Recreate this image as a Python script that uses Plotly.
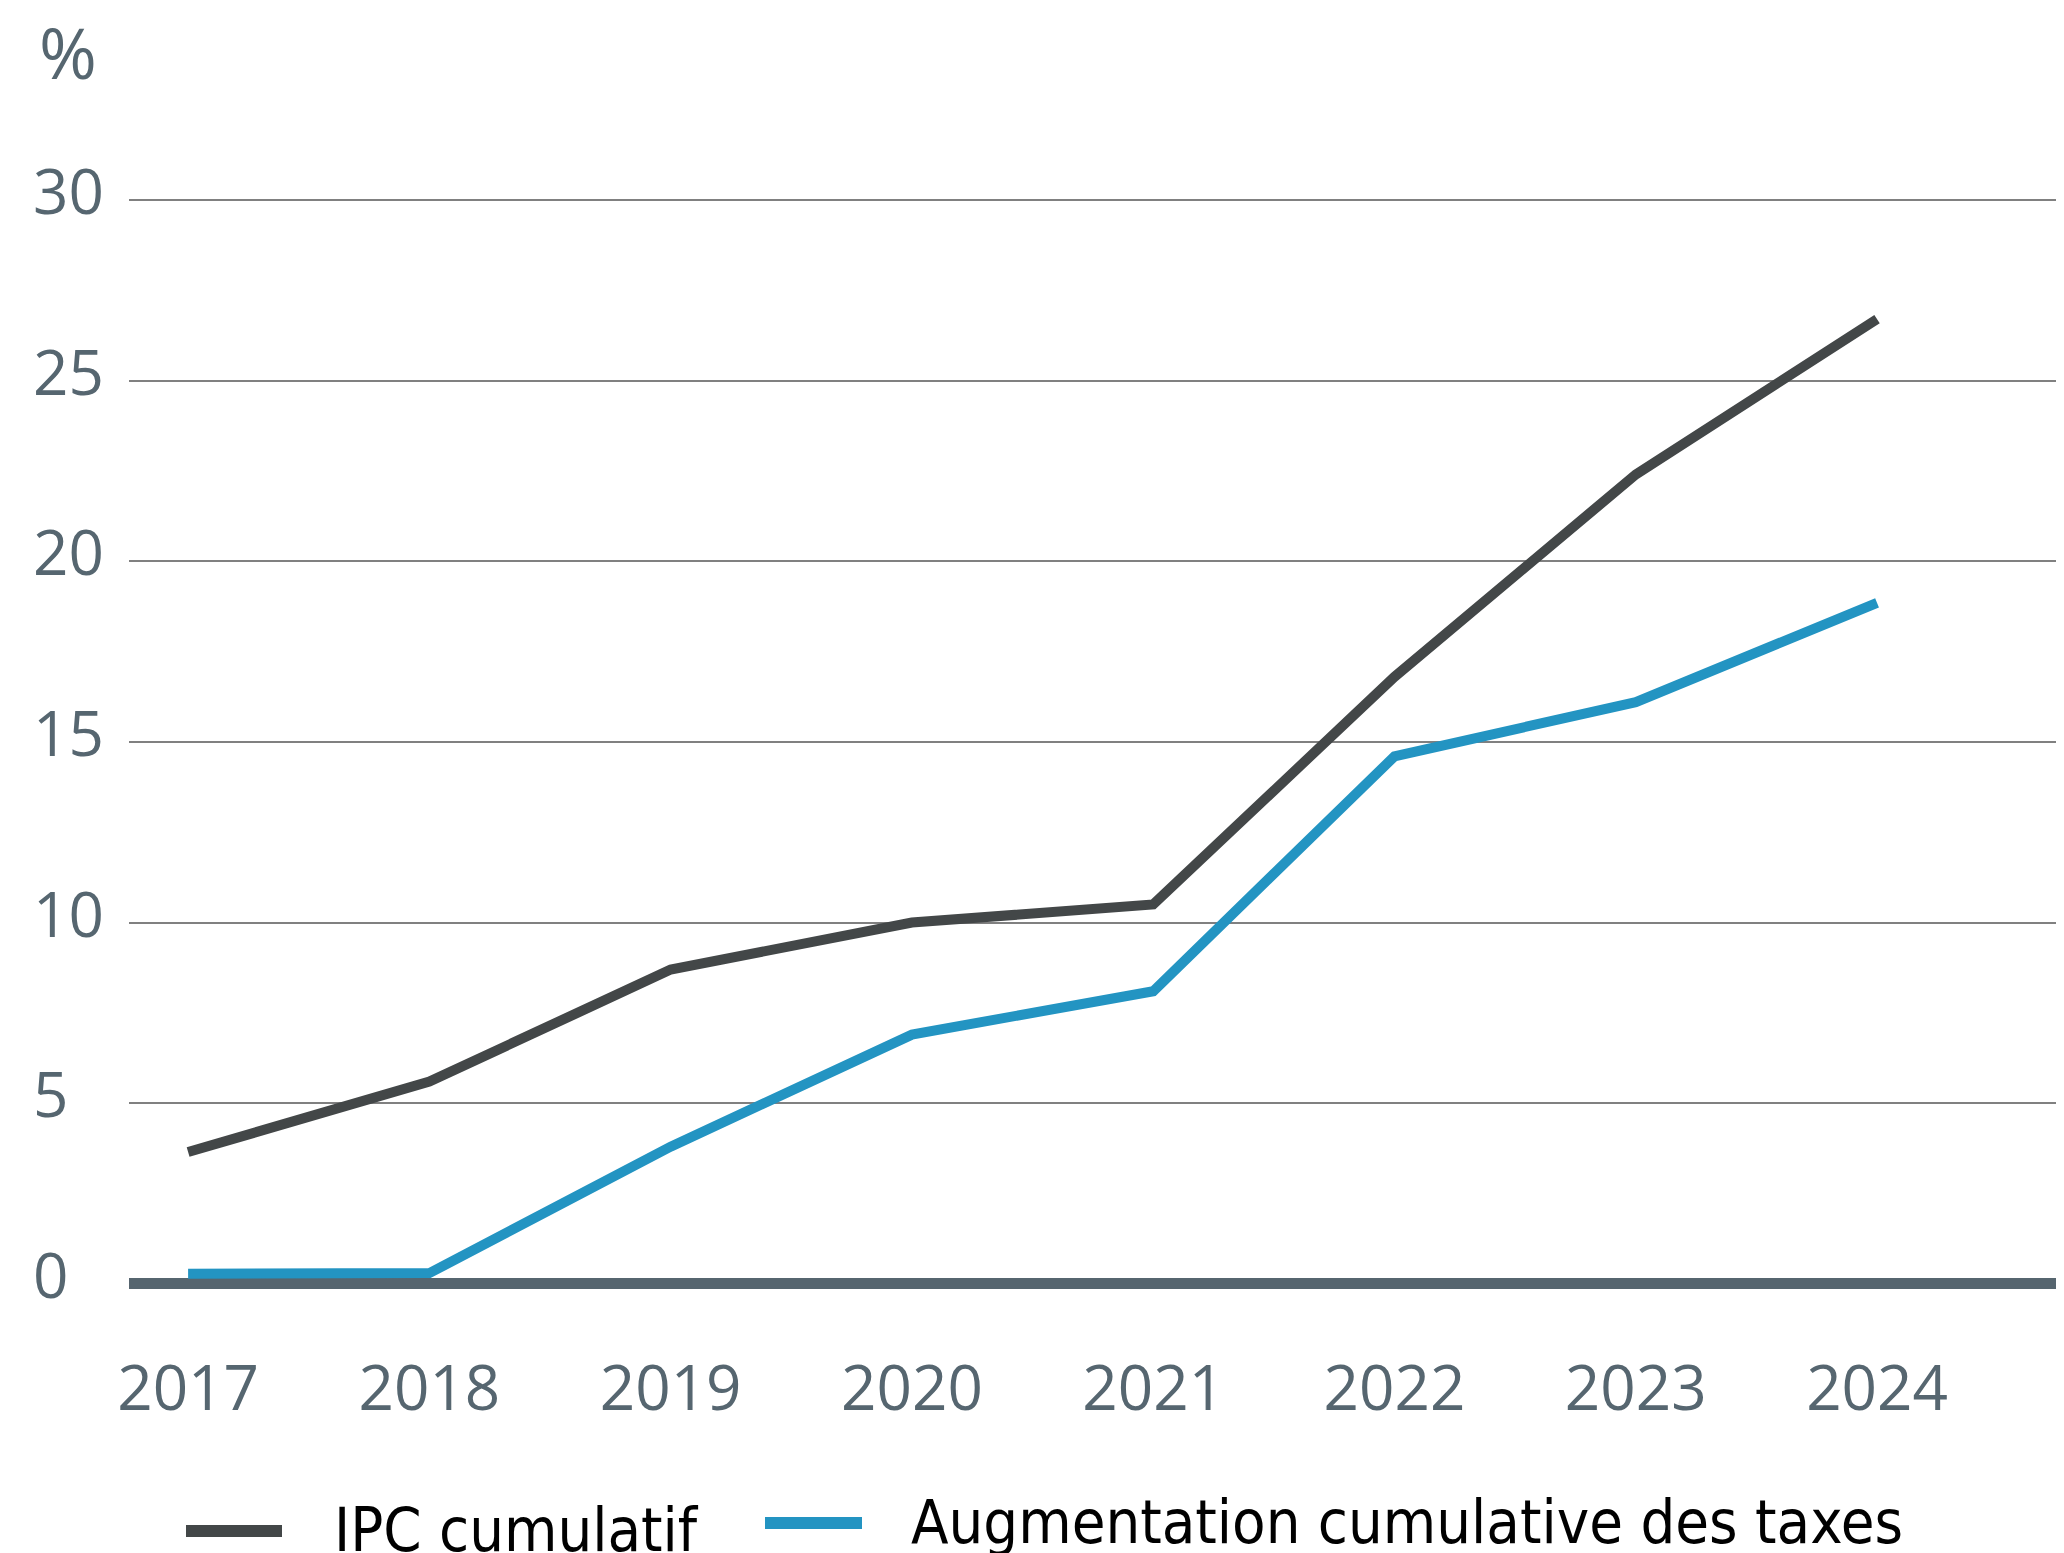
import plotly.graph_objects as go

years = [2017, 2018, 2019, 2020, 2021, 2022, 2023, 2024]
ipc_cumulatif = [3.65, 5.6, 8.7, 10.0, 10.5, 16.8, 22.4, 26.7]
taxes_cumulatives = [0.28, 0.3, 3.8, 6.9, 8.1, 14.6, 16.1, 18.85]
y_ticks = [0, 5, 10, 15, 20, 25, 30]
x_tick_labels = [str(y) for y in years]
series_names = ["IPC cumulatif", "Augmentation cumulative des taxes"]

W, H = 2064, 1553
OFF = 8  # page body margin
ML, MR, MT, MB = 121, 0, 181, 259
PW, PH = W - ML - MR, H - MT - MB

def px(page_x):
    return (page_x - OFF - ML) / PW

def py(page_y):
    return (H - MB - (page_y - OFF)) / PH

TICK_COLOR = "#566670"
BLACK = "#434748"
BLUE = "#2394c2"
tick_font = dict(family="Open Sans", size=62, color=TICK_COLOR)
legend_font = dict(family="DejaVu Sans Condensed", size=61, color="#000000")

fig = go.Figure()
fig.add_trace(go.Scatter(x=years, y=ipc_cumulatif, mode="lines", name=series_names[0],
                         line=dict(color=BLACK, width=10), showlegend=False))
fig.add_trace(go.Scatter(x=years, y=taxes_cumulatives, mode="lines", name=series_names[1],
                         line=dict(color=BLUE, width=10), showlegend=False))

annotations = []
for v in y_ticks:
    annotations.append(dict(text=str(v), x=px(31), xref="paper", xanchor="left",
                            y=v, yref="y", yanchor="middle", yshift=10,
                            showarrow=False, font=tick_font))
annotations.append(dict(text="%", x=px(37), xref="paper", xanchor="left",
                        y=py(52), yref="paper", yanchor="middle",
                        showarrow=False, font=dict(family="Open Sans", size=70, color=TICK_COLOR)))
annotations.append(dict(text=series_names[0], x=px(332), xref="paper", xanchor="left",
                        y=py(1492), yref="paper", yanchor="top",
                        showarrow=False, font=legend_font))
annotations.append(dict(text=series_names[1], x=px(909), xref="paper", xanchor="left",
                        y=py(1484), yref="paper", yanchor="top",
                        showarrow=False, font=legend_font))

shapes = [
    dict(type="line", xref="paper", yref="paper", x0=px(186), x1=px(282), y0=py(1531), y1=py(1531),
         line=dict(color=BLACK, width=12)),
    dict(type="line", xref="paper", yref="paper", x0=px(765), x1=px(862), y0=py(1523), y1=py(1523),
         line=dict(color=BLUE, width=12)),
]

fig.update_layout(
    width=W, height=H,
    margin=dict(l=ML, r=MR, t=MT, b=MB, pad=0),
    paper_bgcolor="white", plot_bgcolor="white",
    annotations=annotations, shapes=shapes,
    xaxis=dict(range=[2016.755, 2024.808], tickvals=years, ticktext=x_tick_labels,
               showgrid=False, zeroline=False, showline=False, ticks="",
               tickfont=tick_font, ticklabelstandoff=45),
    yaxis=dict(range=[-0.5, 30.3], tickvals=y_ticks, showticklabels=False,
               showgrid=True, gridcolor="#808080", gridwidth=2,
               zeroline=True, zerolinecolor="#56656f", zerolinewidth=11,
               showline=False, ticks=""),
)

fig.write_html("out.html")
